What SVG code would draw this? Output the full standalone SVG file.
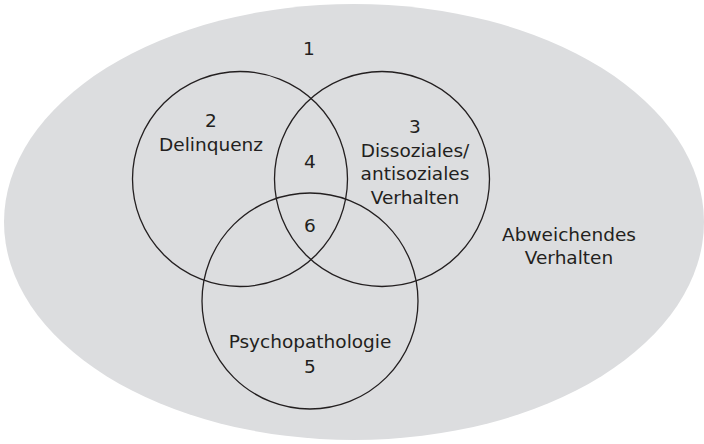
<svg xmlns="http://www.w3.org/2000/svg" width="704" height="444" viewBox="0 0 704 444">
<style>
.bg{fill:#ffffff}
.set{fill:#dcdddf;stroke:none}
.c{fill:none;stroke:#231f20;stroke-width:1.3}
text{font-family:"DejaVu Sans","Liberation Sans",sans-serif;font-size:18.5px;fill:#231f20;text-anchor:middle}
</style>
<rect class="bg" x="0" y="0" width="704" height="444"/>
<g id="abweichendes">
<ellipse class="set" cx="354" cy="222" rx="350" ry="218"/>
<text x="309" y="55">1</text>
<text x="569" y="241">Abweichendes</text>
<text x="569" y="264">Verhalten</text>
</g>
<g id="delinquenz">
<circle class="c" cx="240" cy="179" r="107.5"/>
<text x="211" y="127">2</text>
<text x="211" y="151">Delinquenz</text>
</g>
<g id="dissozial">
<circle class="c" cx="382" cy="179" r="107.5"/>
<text x="415" y="133">3</text>
<text x="415" y="157">Dissoziales/</text>
<text x="415" y="180">antisoziales</text>
<text x="415" y="204">Verhalten</text>
</g>
<g id="psychopathologie">
<circle class="c" cx="310" cy="301" r="108"/>
<text x="310" y="348">Psychopathologie</text>
<text x="310" y="373">5</text>
</g>
<g id="overlaps">
<text x="310" y="168">4</text>
<text x="310" y="232">6</text>
</g>
<g id="connectors"/>
</svg>
